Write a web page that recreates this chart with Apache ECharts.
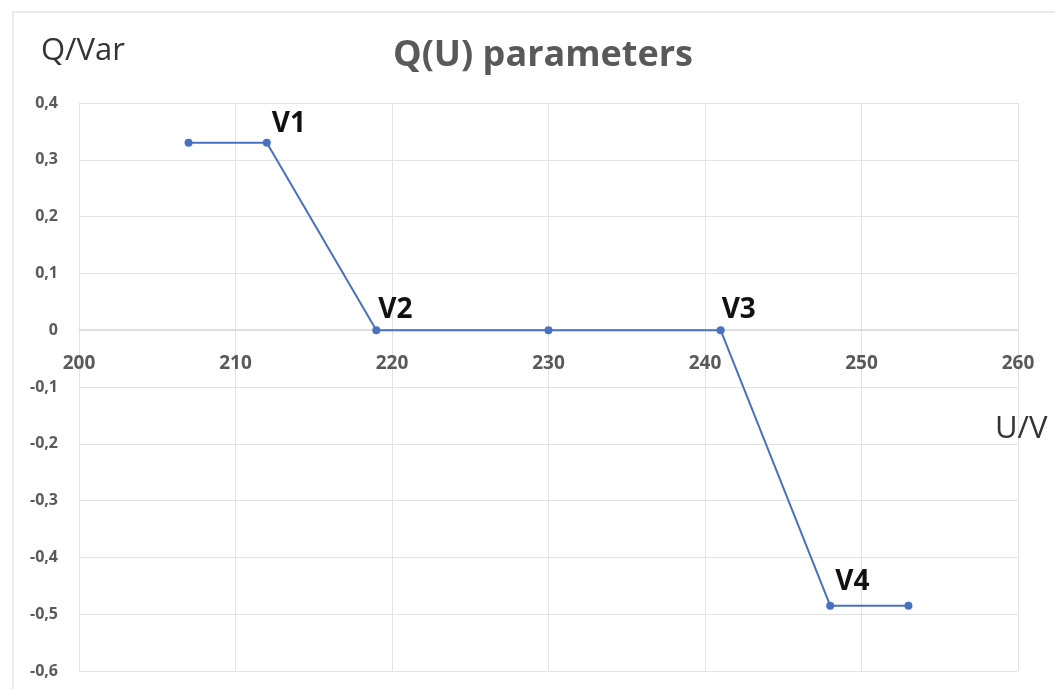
<!DOCTYPE html>
<html><head><meta charset="utf-8">
<script src="https://cdn.jsdelivr.net/npm/echarts@6/dist/echarts.min.js"></script>
<style>html,body{margin:0;padding:0;background:#fff}#c{width:1055px;height:689px}</style>
</head><body><div id="c"></div>
<script>
const uValues = [207, 212, 219, 230, 241, 248, 253];
const qValues = [0.33, 0.33, 0, 0, 0, -0.485, -0.485];
const pointNames = ['', 'V1', 'V2', '', 'V3', 'V4', ''];
const xTicks = [200, 210, 220, 230, 240, 250, 260];
const yTicks = [-0.6, -0.5, -0.4, -0.3, -0.2, -0.1, 0, 0.1, 0.2, 0.3, 0.4];
const labelOffsets = [[0,0],[0,-19],[0,-20],[0,0],[0,-20],[0,-24],[0,0]];
const labelDist = [0,1,-2,0,-3,1,0];

const GRID = {left: 79, right: 37, top: 103, bottom: 18};
const chart = echarts.init(document.getElementById('c'));
const plotH = 689 - GRID.top - GRID.bottom;
const yMin = yTicks[0], yMax = yTicks[yTicks.length - 1];
const zeroFromBottom = plotH * (0 - yMin) / (yMax - yMin);

const data = uValues.map((u, i) => ({
  value: [u, qValues[i]],
  label: {
    show: pointNames[i] !== '',
    formatter: pointNames[i],
    position: 'right',
    distance: labelDist[i],
    offset: labelOffsets[i],
    fontSize: 28, fontWeight: 'bold', color: '#111',
    fontFamily: 'Open Sans'
  }
}));
const fmt = v => {
  const r = Math.round(v * 10) / 10;
  return String(r).replace('.', ',');
};
chart.setOption({
  animation: false,
  backgroundColor: '#fff',
  graphic: [{
    type: 'rect', shape: {x: 13, y: 12, width: 1100, height: 700},
    style: {fill: 'none', stroke: '#e3e3e3', lineWidth: 1.5}, silent: true
  }],
  title: [
    {text: 'Q(U) parameters', left: 388, top: 33,
     textStyle: {fontSize: 36, fontWeight: 'bold', color: '#595959', fontFamily: 'Open Sans'}},
    {text: 'Q/Var', left: 36, top: 31,
     textStyle: {fontSize: 31, fontWeight: 'normal', color: '#333', fontFamily: 'Open Sans'}},
    {text: 'U/V', left: 990, top: 409,
     textStyle: {fontSize: 31, fontWeight: 'normal', color: '#333', fontFamily: 'Open Sans'}}
  ],
  grid: Object.assign({containLabel: false, outerBoundsMode: 'none'}, GRID),
  xAxis: {
    type: 'value', min: xTicks[0], max: xTicks[xTicks.length - 1], interval: 10,
    position: 'bottom',
    offset: -zeroFromBottom,
    axisLine: {show: true, onZero: false, lineStyle: {color: '#d9d9d9', width: 1.5}},
    axisTick: {show: false},
    axisLabel: {margin: 24, fontSize: 19, fontWeight: 'bold', color: '#595959', fontFamily: 'Open Sans', showMaxLabel: true, showMinLabel: true},
    splitLine: {show: true, lineStyle: {color: '#e3e3e3'}}
  },
  yAxis: {
    type: 'value', min: yMin, max: yMax, interval: 0.1,
    axisLine: {show: false}, axisTick: {show: false},
    axisLabel: {formatter: fmt, margin: 21, fontSize: 16, fontWeight: 'bold', color: '#595959', fontFamily: 'Open Sans'},
    splitLine: {show: true, lineStyle: {color: '#e3e3e3'}}
  },
  series: [{
    type: 'line', data: data,
    symbol: 'circle', symbolSize: 8,
    lineStyle: {color: '#4a70c0', width: 2},
    itemStyle: {color: '#4a70c0'}
  }]
});
</script></body></html>
